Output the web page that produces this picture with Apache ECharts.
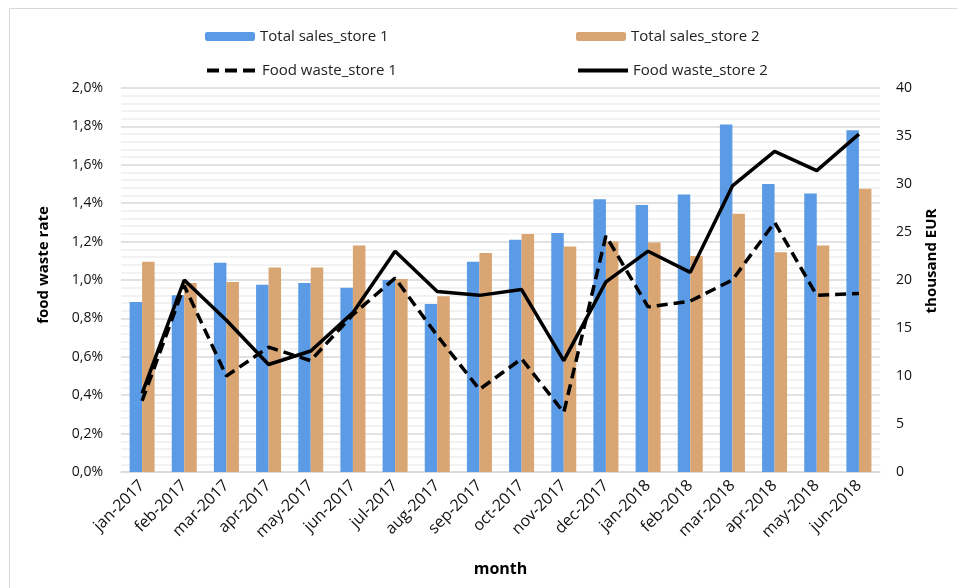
<!DOCTYPE html>
<html>
<head>
<meta charset="utf-8">
<script src="https://cdn.jsdelivr.net/npm/echarts@6/dist/echarts.min.js"></script>
<style>html,body{margin:0;padding:0;background:#fff}#c{width:957px;height:588px}</style>
</head>
<body>
<div id="c"></div>
<script>
var months = ['jan-2017','feb-2017','mar-2017','apr-2017','may-2017','jun-2017','jul-2017','aug-2017','sep-2017','oct-2017','nov-2017','dec-2017','jan-2018','feb-2018','mar-2018','apr-2018','may-2018','jun-2018'];
var sales1 = [17.7,18.4,21.8,19.5,19.7,19.2,20.0,17.5,21.9,24.2,24.9,28.4,27.8,28.9,36.2,30.0,29.0,35.6];
var sales2 = [21.9,19.7,19.8,21.3,21.3,23.6,20.1,18.3,22.8,24.8,23.5,24.0,23.9,22.5,26.9,22.9,23.6,29.5];
var waste1 = [0.37,0.97,0.50,0.65,0.58,0.82,1.01,0.71,0.43,0.59,0.31,1.23,0.86,0.89,1.00,1.30,0.92,0.93];
var waste2 = [0.41,1.00,0.79,0.56,0.63,0.83,1.15,0.94,0.92,0.95,0.58,0.99,1.15,1.04,1.49,1.67,1.57,1.76];
var leftTicks = {min:0, max:2.0, interval:0.2};
var rightTicks = {min:0, max:40, interval:5};

var FONT = 'Open Sans';
var chart = echarts.init(document.getElementById('c'));
var legendText = {fontFamily: FONT, fontSize: 15, color: '#222'};
var lineLegendItem = {color:'transparent', borderWidth:0};
chart.setOption({
  animation: false,
  textStyle: {fontFamily: FONT},
  graphic: [
    {type:'line', shape:{x1:9,y1:8.5,x2:957,y2:8.5}, style:{stroke:'#d9d9d9', lineWidth:1}},
    {type:'line', shape:{x1:9.5,y1:8,x2:9.5,y2:588}, style:{stroke:'#d9d9d9', lineWidth:1}}
  ],
  legend: [
    {data:['Total sales_store 1'], left:205, top:29, padding:0, itemWidth:50, itemHeight:9, itemGap:0, textStyle:legendText},
    {data:['Total sales_store 2'], left:576, top:29, padding:0, itemWidth:50, itemHeight:9, itemGap:0, textStyle:legendText},
    {data:['Food waste_store 1'], left:205, top:63, padding:0, itemWidth:50, itemHeight:14, itemGap:0, textStyle:legendText,
      itemStyle:lineLegendItem, lineStyle:{width:4, type:[12,6]}},
    {data:['Food waste_store 2'], left:576, top:63, padding:0, itemWidth:50, itemHeight:14, itemGap:0, textStyle:legendText,
      itemStyle:lineLegendItem, lineStyle:{width:4}}
  ],
  grid: {left:121, right:77, top:88, bottom:116, containLabel:false},
  xAxis: {
    type:'category', data: months,
    name:'month', nameLocation:'middle', nameGap:89,
    nameTextStyle:{fontFamily:FONT, fontSize:16, fontWeight:'bold', color:'#000'},
    axisLine:{lineStyle:{color:'#d9d9d9', width:1.5}},
    axisTick:{show:false},
    axisLabel:{rotate:45, fontFamily:FONT, fontSize:16, color:'#111', margin:11, interval:0}
  },
  yAxis: [
    {
      type:'value', min:leftTicks.min, max:leftTicks.max, interval:leftTicks.interval,
      name:'food waste rate', nameLocation:'middle', nameRotate:90, nameGap:70,
      nameTextStyle:{fontFamily:FONT, fontSize:15, fontWeight:'bold', color:'#000', padding:[0,0,0,30]},
      axisLine:{show:false}, axisTick:{show:false},
      axisLabel:{fontFamily:FONT, fontSize:14, color:'#111', margin:18,
        formatter:function(v){return v.toFixed(1).replace('.', ',') + '%';}},
      splitLine:{show:true, lineStyle:{color:'#d9d9d9', width:1.5}},
      minorTick:{show:false, splitNumber:5},
      minorSplitLine:{show:true, lineStyle:{color:'#eeeeee', width:1.5}}
    },
    {
      type:'value', min:rightTicks.min, max:rightTicks.max, interval:rightTicks.interval,
      name:'thousand EUR', nameLocation:'middle', nameRotate:90, nameGap:44,
      nameTextStyle:{fontFamily:FONT, fontSize:15, fontWeight:'bold', color:'#000', padding:[0,0,0,38]},
      axisLine:{show:false}, axisTick:{show:false},
      axisLabel:{fontFamily:FONT, fontSize:14, color:'#111', margin:16},
      splitLine:{show:false}
    }
  ],
  series: [
    {name:'Total sales_store 1', type:'bar', yAxisIndex:1, data:sales1, barWidth:12.5, barGap:'0%',
      itemStyle:{color:'#5b9be6'}},
    {name:'Total sales_store 2', type:'bar', yAxisIndex:1, data:sales2, barWidth:12.5, barGap:'0%',
      itemStyle:{color:'#d8a573'}},
    {name:'Food waste_store 1', type:'line', yAxisIndex:0, data:waste1, symbol:'none', z:5,
      lineStyle:{color:'#000', width:3.5, type:[11,6]}, itemStyle:{color:'#000'}},
    {name:'Food waste_store 2', type:'line', yAxisIndex:0, data:waste2, symbol:'none', z:6,
      lineStyle:{color:'#000', width:3.5}, itemStyle:{color:'#000'}}
  ]
});
</script>
</body>
</html>
